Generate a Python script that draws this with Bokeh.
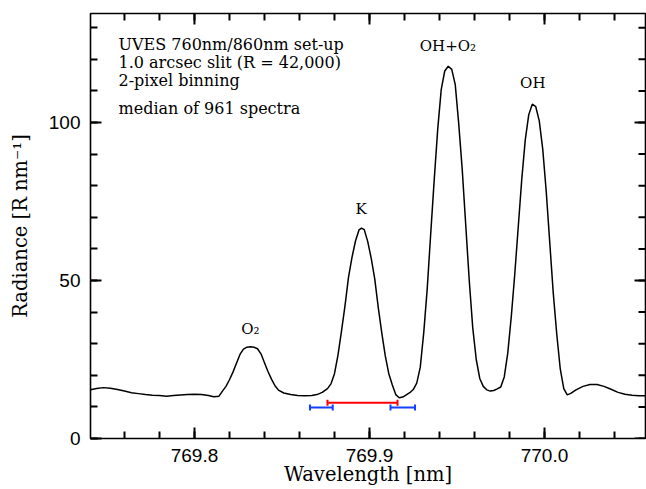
import numpy as np
from bokeh.plotting import figure
from bokeh.models import (ColumnDataSource, FixedTicker, LinearAxis, NumeralTickFormatter,
                          TeeHead, Whisker)
from bokeh.embed import file_html
from bokeh.resources import INLINE
from bokeh.core.properties import value

# Median sky spectrum around the K D1 line (nm, Rayleigh per nm)
wavelength = [
    769.7406, 769.744, 769.748, 769.752, 769.756, 769.760, 769.764, 769.768, 769.772, 769.776,
    769.780, 769.784, 769.788, 769.792, 769.796, 769.800, 769.804, 769.808, 769.811, 769.814,
    769.816, 769.818, 769.820, 769.822, 769.824, 769.826, 769.828, 769.830, 769.832, 769.834,
    769.836, 769.838, 769.840, 769.842, 769.844, 769.846, 769.848, 769.851, 769.855, 769.859,
    769.863, 769.867, 769.870, 769.873, 769.876, 769.878, 769.880, 769.882, 769.884, 769.886,
    769.888, 769.890, 769.892, 769.894, 769.8955, 769.897, 769.899, 769.901, 769.903, 769.905,
    769.907, 769.909, 769.911, 769.913, 769.915, 769.917, 769.919, 769.921, 769.923, 769.925,
    769.927, 769.929, 769.931, 769.933, 769.935, 769.937, 769.939, 769.941, 769.943, 769.945,
    769.947, 769.949, 769.951, 769.953, 769.955, 769.957, 769.959, 769.961, 769.963, 769.965,
    769.967, 769.969, 769.971, 769.973, 769.975, 769.977, 769.979, 769.981, 769.983, 769.985,
    769.987, 769.989, 769.991, 769.993, 769.995, 769.997, 769.999, 770.001, 770.003, 770.005,
    770.007, 770.009, 770.011, 770.013, 770.015, 770.018, 770.022, 770.026, 770.030, 770.034,
    770.038, 770.042, 770.046, 770.050, 770.054, 770.0577,
]
radiance = [
    15.4, 15.8, 16.1, 15.9, 15.5, 15.0, 14.5, 14.2, 13.9, 13.7,
    13.6, 13.4, 13.6, 13.8, 13.9, 14.0, 13.9, 13.6, 13.2, 13.4,
    15.0, 16.5, 18.6, 21.0, 23.8, 26.6, 28.3, 28.9, 29.0, 28.9,
    28.4, 26.8, 24.0, 21.2, 18.8, 16.7, 15.3, 14.4, 13.9, 13.6,
    13.5, 13.6, 13.9, 14.6, 15.8, 17.3, 20.5, 26.4, 34.0, 42.0,
    51.0, 57.3, 62.5, 66.0, 66.6, 66.1, 62.3, 57.0, 50.5, 41.5,
    33.5, 26.2, 20.6, 17.0, 13.9, 12.9, 13.1, 13.8, 14.5, 15.5,
    17.5, 22.5, 33.5, 47.5, 65.0, 82.0, 98.0, 110.5, 116.3, 117.8,
    116.8, 112.0, 99.5, 85.0, 67.5, 50.0, 35.0, 25.0, 19.0, 16.5,
    15.4, 15.0, 15.2, 15.7, 16.3, 19.5, 27.0, 38.5, 52.0, 67.0,
    82.0, 94.5, 102.5, 105.8, 105.0, 100.5, 91.5, 78.0, 62.0, 46.0,
    33.0, 22.0, 15.8, 13.8, 14.3, 15.4, 16.5, 17.1, 17.1, 16.5,
    15.6, 14.6, 14.0, 13.7, 13.5, 13.5,
]

# K line window (red) and the two continuum windows (blue)
line_window = [769.876, 769.916]
continuum_left = [769.866, 769.879]
continuum_right = [769.912, 769.926]
line_window_level = 11.3
continuum_level = 9.8

# Emission features
peak_names = ["O₂", "K", "OH+O₂", "OH"]
peak_wavelengths = [769.832, 769.8952, 769.9448, 769.9933]
peak_label_heights = [34.7, 72.6, 124.3, 112.5]

info_lines = [
    "UVES 760nm/860nm set-up",
    "1.0 arcsec slit (R = 42,000)",
    "2-pixel binning",
    "median of 961 spectra",
]
info_heights = [124.8, 119.0, 113.2, 104.3]

X_START, X_END = 769.7406, 770.0577
Y_START, Y_END = 0, 134.5

x_major = [769.8, 769.9, 770.0]
x_minor = [float(v) for v in np.round(np.arange(769.74, 770.07, 0.02), 2)]
y_major = [0, 50, 100]
y_minor = list(range(0, 140, 10))

SERIF = "DejaVu Serif"
SANS = "Liberation Sans"

p = figure(width=646, height=489, output_backend="svg", toolbar_location=None,
           x_range=(X_START, X_END), y_range=(Y_START, Y_END),
           min_border_left=90, min_border_right=1, min_border_top=13, min_border_bottom=51,
           x_axis_location=None, y_axis_location=None)
p.xgrid.visible = False
p.ygrid.visible = False
p.outline_line_color = "black"
p.outline_line_width = 1.6
p.outline_line_alpha = 1.0
p.background_fill_color = "white"
p.border_fill_color = "white"


def style_axis(ax, major, minor):
    ax.ticker = FixedTicker(ticks=major, minor_ticks=minor)
    ax.axis_line_color = None
    ax.major_tick_in = 11
    ax.major_tick_out = 0
    ax.minor_tick_in = 7
    ax.minor_tick_out = 0
    ax.major_tick_line_width = 2
    ax.minor_tick_line_width = 2
    ax.major_tick_line_color = "black"
    ax.minor_tick_line_color = "black"
    ax.major_label_text_font = SANS
    ax.major_label_text_font_size = "19px"
    ax.major_label_text_color = "black"
    ax.major_label_standoff = 10
    ax.axis_label_text_font = SERIF
    ax.axis_label_text_font_size = "19.5px"
    ax.axis_label_text_font_style = "normal"
    ax.axis_label_text_color = "black"


xb = LinearAxis(axis_label="Wavelength [nm]", formatter=NumeralTickFormatter(format="0.0"))
style_axis(xb, x_major, x_minor)
xb.axis_label_standoff = -2
p.add_layout(xb, "below")

yl = LinearAxis(axis_label="Radiance [R nm⁻¹]")
style_axis(yl, y_major, y_minor)
yl.axis_label_standoff = 14
p.add_layout(yl, "left")

# Inward ticks along the top and right edges of the frame (clipped to the frame,
# so only the inner half of each dash shows)
p.scatter(x=x_major, y=[Y_END] * len(x_major), marker="dash", angle=np.pi / 2,
          size=22, line_color="black", line_width=2)
p.scatter(x=x_minor, y=[Y_END] * len(x_minor), marker="dash", angle=np.pi / 2,
          size=14, line_color="black", line_width=2)
p.scatter(x=[X_END] * len(y_major), y=y_major, marker="dash",
          size=22, line_color="black", line_width=2)
p.scatter(x=[X_END] * len(y_minor), y=y_minor, marker="dash",
          size=14, line_color="black", line_width=2)

# Spectrum
p.line(wavelength, radiance, line_color="black", line_width=1.5)

# Integration windows
for lo_hi, level, colour in [
    (line_window, line_window_level, "#ff0000"),
    (continuum_left, continuum_level, "#1440ff"),
    (continuum_right, continuum_level, "#1440ff"),
]:
    src = ColumnDataSource(dict(base=[level], lower=[lo_hi[0]], upper=[lo_hi[1]]))
    w = Whisker(base="base", lower="lower", upper="upper", dimension="width", source=src,
                line_color=colour, line_width=2,
                lower_head=TeeHead(size=6, line_color=colour, line_width=2),
                upper_head=TeeHead(size=6, line_color=colour, line_width=2))
    p.add_layout(w)

# Feature labels
p.text(x=peak_wavelengths, y=peak_label_heights, text=peak_names,
       text_font=value(SERIF), text_font_size="15px", text_color="black",
       text_align="center", text_baseline="middle")

# Set-up notes
p.text(x=[769.7566] * len(info_lines), y=info_heights, text=info_lines,
       text_font=value(SERIF), text_font_size="16px", text_color="black",
       text_align="left", text_baseline="middle")

open("out.html", "w").write(file_html(p, INLINE))
